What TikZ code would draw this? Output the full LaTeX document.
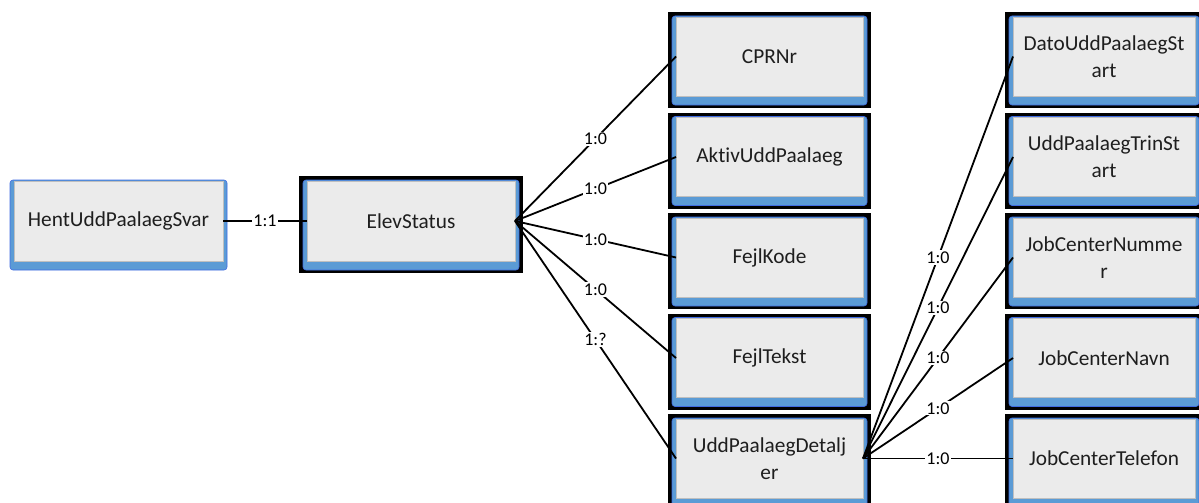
\documentclass[tikz,border=0pt]{standalone}
\usepackage{fontspec}
\setmainfont{Carlito}[Ligatures=NoCommon]
\definecolor{boxblue}{HTML}{5B9BD5}
\definecolor{boxgray}{HTML}{EBEBEB}
\definecolor{boxedge}{HTML}{BFBFBF}
\definecolor{txt}{HTML}{1E1E1E}
\tikzset{
  entity/.style={draw=boxedge, line width=0.8pt, fill=boxgray, inner sep=0pt, outer sep=0pt,
    align=center, text=txt, font=\fontsize{21.3}{27}\selectfont},
  conn/.style={line width=1.8pt, black},
  lbl/.style={fill=white, inner sep=1.2pt, font=\fontsize{18}{20}\selectfont, text=black},
  bluebg/.style={fill=boxblue, draw=boxblue!70!blue, line width=0.6pt, rounded corners=3pt},
}
% name, x0, y0, x1, y1, text, framed (1/0)
\newcommand\entbox[7]{%
  \ifnum#7=1 \fill[black] (#2-8,#3-5) rectangle (#4+8,#5+12);\fi
  \path[bluebg] (#2-4,#3-1) rectangle (#4+4,#5+9);
  \node[entity, minimum width={(#4-#2)*1pt}, minimum height={(#5-#3)*1pt}]
    (#1) at ({(#2+#4)/2},{(#3+#5)/2}) {#6};
}
\begin{document}
\begin{tikzpicture}[x=1pt,y=-1pt]
\useasboundingbox (0,0) rectangle (1199,503);
\clip (0,0) rectangle (1199,503);
\entbox{hent}{14}{181}{223}{261}{HentUddPaalaegSvar}{0}
\entbox{es}{307}{181}{515}{261}{ElevStatus}{1}
\entbox{cpr}{676}{17}{863}{96}{CPRNr}{1}
\entbox{akt}{676}{117.5}{863}{196.5}{AktivUddPaalaeg}{1}
\entbox{fk}{676}{218}{863}{297}{FejlKode}{1}
\entbox{ft}{676}{318.5}{863}{397.5}{FejlTekst}{1}
\entbox{det}{676}{419}{863}{498}{UddPaalaegDetalj\\er}{1}
\entbox{dato}{1013}{17}{1195}{96}{DatoUddPaalaegSt\\art}{1}
\entbox{trin}{1013}{117.5}{1195}{196.5}{UddPaalaegTrinSt\\art}{1}
\entbox{jcnr}{1013}{218}{1195}{297}{JobCenterNumme\\r}{1}
\entbox{jcn}{1013}{318.5}{1195}{397.5}{JobCenterNavn}{1}
\entbox{jct}{1013}{419}{1195}{498}{JobCenterTelefon}{1}

\draw[conn] (hent.east) -- node[lbl]{1:1} (es.west);
\draw[conn] (es.east) -- node[lbl]{1:0} (cpr.west);
\draw[conn] (es.east) -- node[lbl]{1:0} (akt.west);
\draw[conn] (es.east) -- node[lbl]{1:0} (fk.west);
\draw[conn] (es.east) -- node[lbl]{1:0} (ft.west);
\draw[conn] (es.east) -- node[lbl]{1:?} (det.west);
\draw[conn] (det.east) -- node[lbl]{1:0} (dato.west);
\draw[conn] (det.east) -- node[lbl]{1:0} (trin.west);
\draw[conn] (det.east) -- node[lbl]{1:0} (jcnr.west);
\draw[conn] (det.east) -- node[lbl]{1:0} (jcn.west);
\draw[conn] (det.east) -- node[lbl]{1:0} (jct.west);
\end{tikzpicture}
\end{document}
